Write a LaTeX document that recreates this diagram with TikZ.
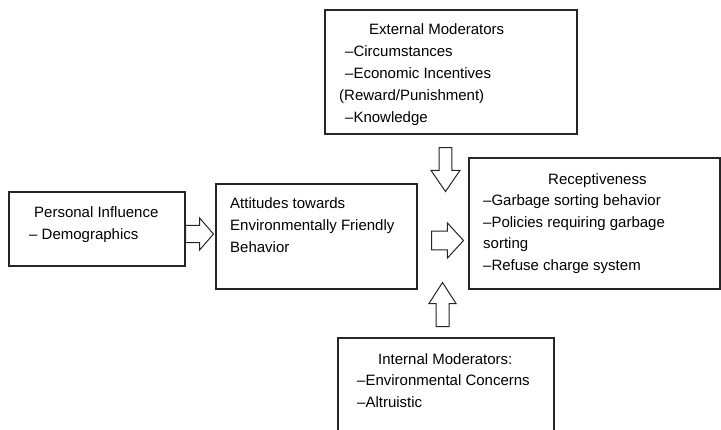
\documentclass[tikz,border=0pt]{standalone}
\usepackage{fontspec}
\setmainfont{Liberation Sans}
\usetikzlibrary{shapes.arrows,positioning}

\begin{document}
\begin{tikzpicture}[x=1pt, y=-1pt,
  box/.style={draw=black!85, line width=1.2pt, inner sep=0pt},
  txt/.style={inner sep=0pt, align=left, anchor=base west, font=\fontsize{15}{#1}\selectfont},
  txt/.default=21.5,
  blockarrow/.style={single arrow, draw=black!85, line width=1pt, fill=white, inner xsep=0pt, inner ysep=#1, anchor=tail},
  blockarrow/.default=7pt]
\useasboundingbox (0,0) rectangle (721,429);
\clip (0,0) rectangle (721,429);

% boxes
\node [box, minimum width=176pt, minimum height=74pt] (pers) at (97,229) {};
\node [box, minimum width=201pt, minimum height=105pt] (att) at (316.5,236.5) {};
\node [box, minimum width=252pt, minimum height=124pt] (ext) at (451,72) {};
\node [box, minimum width=251pt, minimum height=131pt] (rec) at (594.5,223.5) {};
\node [box, minimum width=216pt, minimum height=102pt] (int) at (446,389) {};

% texts (anchored at the baseline of the last line)
\node [txt] (pers-txt) at (29,239) {\hspace*{5pt}Personal Influence\\-- Demographics};
\node [txt=22] (att-txt) at (230,252) {Attitudes towards\\Environmentally Friendly\\Behavior};
\node [txt=22] (ext-txt) at (339,122) {\hspace*{30pt}External Moderators\\
  \hspace*{6pt}--Circumstances\\ \hspace*{6pt}--Economic Incentives\\(Reward/Punishment)\\ \hspace*{6pt}--Knowledge};
\node [txt] (rec-txt) at (483,270) {\hspace*{65pt}Receptiveness\\--Garbage sorting behavior\\--Policies requiring garbage\\sorting\\--Refuse charge system};
\node [txt] (int-txt) at (357,407) {\hspace*{21pt}Internal Moderators:\\--Environmental Concerns\\--Altruistic};

% block arrows (placed by their tails)
\node [blockarrow=8pt, minimum height=28pt, minimum width=32pt, single arrow tip angle=98] (pers-att) at (185,234) {};
\node [blockarrow=5pt, minimum height=44pt, minimum width=29pt, single arrow tip angle=69, rotate=-90] (ext-rec) at (445.5,147) {};
\node [blockarrow=7.5pt, minimum height=32pt, minimum width=35pt, single arrow tip angle=95] (att-rec) at (431,240.5) {};
\node [blockarrow=6pt, minimum height=44pt, minimum width=27pt, single arrow tip angle=65.5, rotate=90] (int-rec) at (442.5,327) {};
\end{tikzpicture}
\end{document}
